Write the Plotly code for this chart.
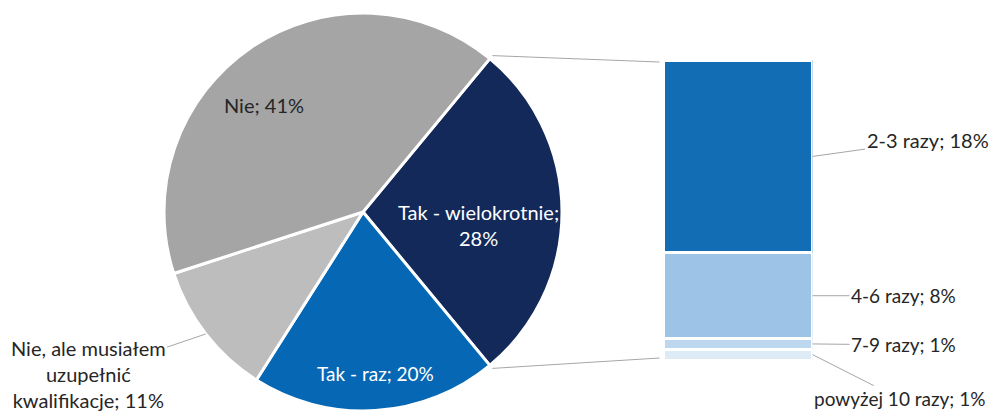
import math
import plotly.graph_objects as go

# ---------------- data ----------------
pie_labels = ["Tak - wielokrotnie", "Tak - raz", "Nie, ale musiałem uzupełnić kwalifikacje", "Nie"]
pie_values = [28, 20, 11, 41]
pie_colors = ["#13295A", "#0668B4", "#BDBDBD", "#A5A5A5"]

bar_labels = ["powyżej 10 razy", "7-9 razy", "4-6 razy", "2-3 razy"]   # bottom -> top
bar_values = [1, 1, 8, 18]
bar_colors = ["#DDEBF7", "#BDD7EE", "#9DC3E6", "#136DB5"]

# ---------------- layout constants ----------------
W, H = 991, 412
FONT = "Lato"
FS = 20
pie_x0, pie_x1 = 164, 562          # pie domain in px
pie_y0, pie_y1 = 13, 411
cx, cy = (pie_x0 + pie_x1) / 2, (pie_y0 + pie_y1) / 2
R = (pie_x1 - pie_x0) / 2
bar_x0, bar_x1 = 663.5, 812.5
bar_top, bar_bot = 60, 360

def px(x):
    return x / W

def py(y):
    return (H - y) / H

total = sum(pie_values)
split_share = pie_values[0] / total
rotation = 90 - split_share * 180   # split slice centred on 3 o'clock

fig = go.Figure()
fig.add_trace(go.Pie(
    labels=pie_labels, values=pie_values, sort=False, direction="clockwise",
    rotation=rotation, textinfo="none", hoverinfo="label+percent",
    marker=dict(colors=pie_colors, line=dict(color="white", width=3)),
    domain=dict(x=[px(pie_x0), px(pie_x1)], y=[py(pie_y1), py(pie_y0)]),
    showlegend=False,
))

for lab, val, col in zip(bar_labels, bar_values, bar_colors):
    fig.add_trace(go.Bar(
        x=[0], y=[val], name=lab, marker=dict(color=col, line=dict(color="white", width=3)),
        width=1, showlegend=False, xaxis="x", yaxis="y", hoverinfo="name+y",
    ))

annotations = []
shapes = []

def slice_angles(i):
    start = rotation + sum(pie_values[:i]) / total * 360
    end = start + pie_values[i] / total * 360
    return start, end

def pt(angle_deg, r):
    a = math.radians(angle_deg)
    return cx + r * math.sin(a), cy - r * math.cos(a)

def pct(v):
    return f"{round(v / total * 100)}%"

# inside labels
inside = [
    (0, "Tak - wielokrotnie;<br>" + pct(pie_values[0]), (478, 225), "white", FS),
    (1, "Tak - raz; " + pct(pie_values[1]), (375, 373), "white", 19),
    (3, "Nie; " + pct(pie_values[3]), (264, 105), "#262626", FS),
]
for i, txt, (tx, ty), col, fs in inside:
    annotations.append(dict(x=px(tx), y=py(ty), xref="paper", yref="paper", text=txt,
                            xanchor="center", yanchor="middle",
                            showarrow=False, font=dict(family=FONT, size=fs, color=col),
                            align="center"))

# outside label for slice 2
s, e = slice_angles(2)
ex, ey = pt((s + e) / 2, R)
annotations.append(dict(x=px(ex), y=py(ey), xref="paper", yref="paper",
                        text="Nie, ale musiałem<br>uzupełnić<br>kwalifikacje; " + pct(pie_values[2]),
                        showarrow=True, arrowhead=0, arrowwidth=1, arrowcolor="#A6A6A6",
                        ax=88 - ex, ay=374 - ey, font=dict(family=FONT, size=FS, color="#262626"),
                        align="center"))

# connector lines pie -> bar
s0, e0 = slice_angles(0)
ux, uy = pt(s0, R * 1.02)
lx, ly = pt(e0, R * 1.02)
shapes.append(dict(type="line", xref="paper", yref="paper", x0=px(ux), y0=py(uy),
                   x1=px(bar_x0 - 4), y1=py(bar_top + 2), line=dict(color="#A6A6A6", width=1)))
shapes.append(dict(type="line", xref="paper", yref="paper", x0=px(lx), y0=py(ly),
                   x1=px(bar_x0 - 4), y1=py(bar_bot - 2), line=dict(color="#A6A6A6", width=1)))

# bar labels
offsets = {"2-3 razy": (115, -16), "4-6 razy": (91, 0), "7-9 razy": (91, 1), "powyżej 10 razy": (87, 44)}
sizes = {"2-3 razy": 20, "4-6 razy": 19, "7-9 razy": 19, "powyżej 10 razy": 19}
cum = 0
for lab, val in zip(bar_labels, bar_values):
    mid = cum + val / 2
    cum += val
    ax, ay = offsets[lab]
    annotations.append(dict(x=0.5, y=mid, xref="x", yref="y", text=f"{lab}; {val}%",
                            showarrow=True, arrowhead=0, arrowwidth=1, arrowcolor="#A6A6A6",
                            ax=ax, ay=ay, font=dict(family=FONT, size=sizes[lab], color="#262626")))

fig.update_layout(
    width=W, height=H, margin=dict(l=0, r=0, t=0, b=0),
    paper_bgcolor="white", plot_bgcolor="white", barmode="stack",
    xaxis=dict(domain=[px(bar_x0), px(bar_x1)], range=[-0.5, 0.5], visible=False, fixedrange=True),
    yaxis=dict(domain=[py(bar_bot), py(bar_top)], range=[0, sum(bar_values)], visible=False, fixedrange=True),
    annotations=annotations, shapes=shapes, font=dict(family=FONT),
)

fig.write_html("out.html", config={"displayModeBar": False},
               post_script="document.body.style.margin='0';document.body.style.overflow='hidden';")
